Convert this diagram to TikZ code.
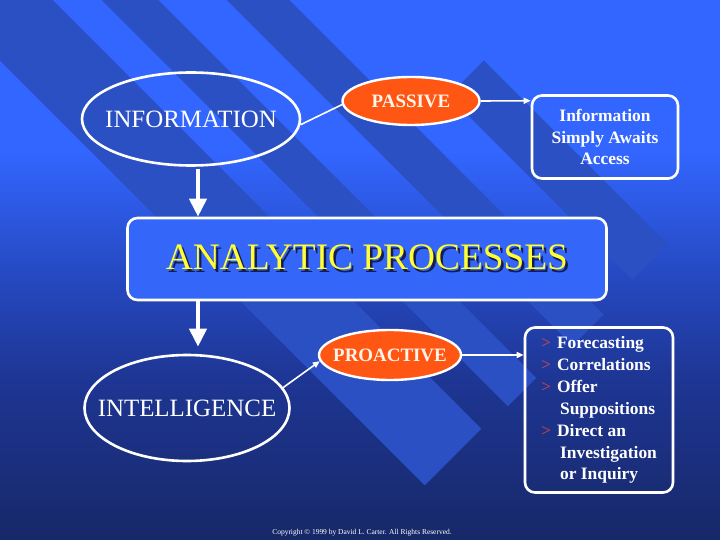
\documentclass[tikz,border=0pt]{standalone}
\usepackage{fontspec}
\setmainfont{Liberation Serif}
\usepackage{tikz}
\usetikzlibrary{shapes.geometric,arrows.meta,calc,positioning}
\definecolor{bgtop}{RGB}{51,102,255}
\definecolor{bgmid}{RGB}{38,74,196}
\definecolor{bgdeep}{RGB}{30,54,148}
\definecolor{bgbot}{RGB}{23,40,104}
\definecolor{stripeblue}{RGB}{42,80,196}
\definecolor{panelblue}{RGB}{52,102,250}
\definecolor{hotorange}{RGB}{255,86,20}
\definecolor{titleyellow}{RGB}{255,255,51}
\definecolor{titleshade}{RGB}{20,28,80}
\definecolor{bulletred}{RGB}{220,70,70}
\definecolor{creamtext}{RGB}{255,244,232}
\pgfdeclareverticalshading{slidebg}{100bp}{color(0bp)=(bgbot); color(25bp)=(bgbot); color(40bp)=(bgdeep); color(50bp)=(bgmid); color(61bp)=(bgtop); color(100bp)=(bgtop)}
\tikzstyle{stripe}=[fill=stripeblue]
\tikzstyle{bubble}=[ellipse, draw=white, line width=2.6bp, inner sep=0pt, text=white, font=\fontsize{25}{30}\selectfont]
\tikzstyle{hotspot}=[ellipse, draw=white, fill=hotorange, line width=2.4bp, inner sep=0pt, text=creamtext, font=\bfseries\fontsize{19}{23}\selectfont]
\tikzstyle{panel}=[rectangle, rounded corners=10bp, draw=white, line width=2.6bp, text=white, font=\bfseries\fontsize{17.5}{22}\selectfont]
\tikzstyle{link}=[draw=white, line width=1.6bp]
\tikzstyle{linkarrow}=[link, -{Triangle[length=7bp,width=6bp]}]
\tikzstyle{downflow}=[draw=white, line width=4bp, -{Triangle[length=18bp,width=17bp]}]
\newcommand{\bubble}{\node[bubble]}
\newcommand{\hotspot}{\node[hotspot]}
\newcommand{\fit}[1]{\makebox[0pt]{#1}}
\newcommand{\stripe}[4]{\fill[stripe] ($(#1)+(315:#2)$) -- ++(225:#4) -- ++(135:#3) -- ++(45:#4) -- cycle;}
\newcommand{\itm}[1]{\makebox[16bp][l]{\textcolor{bulletred}{\mdseries>}}#1}
\newcommand{\cont}[1]{\hspace*{19bp}#1}
\newcommand{\shadowed}[1]{\makebox[0pt][l]{\raisebox{-2.5bp}{\hspace*{2.5bp}\textcolor{titleshade}{#1}}}#1}

\begin{document}
\begin{tikzpicture}[x=1bp, y=-1bp]
            \useasboundingbox (0,0) rectangle (720,540);
            \begin{scope}
                \clip (0,0) rectangle (720,540);
                \shade[shading=slidebg] (0,0) rectangle (720,540);
                \stripe{453,457}{40}{80}{900}
                \stripe{522,392}{20}{40}{900}
                \stripe{588,330}{22}{44}{900}
                \stripe{650,262}{25}{50}{260}
            \end{scope}

            \bubble[minimum width=218bp, minimum height=93bp] (info) at (191,119) {\fit{INFORMATION}};
            \hotspot[minimum width=137bp, minimum height=48bp] (passive) at (411,101) {\fit{PASSIVE}};
            \node[panel, minimum width=146bp, minimum height=83bp, align=center] (awaits) at (605,137) {Information\\Simply Awaits\\Access};

            \node[panel, fill=panelblue, minimum width=479bp, minimum height=82bp, text=titleyellow, font=\fontsize{37.5}{44}\selectfont] (analytic) at (367,259) {\shadowed{ANALYTIC PROCESSES}};

            \bubble[minimum width=205bp, minimum height=106bp] (intel) at (187,408) {\fit{INTELLIGENCE}};
            \hotspot[minimum width=142bp, minimum height=50bp] (proact) at (390,355) {\fit{PROACTIVE}};
            \node[panel, minimum width=148bp, minimum height=165bp, align=left] (list) at (599,410) {\itm{Forecasting}\\\itm{Correlations}\\\itm{Offer}\\\cont{Suppositions}\\\itm{Direct an}\\\cont{Investigation}\\\cont{or Inquiry}};

            \node[text=white, font=\fontsize{7.5}{9}\selectfont] (credit) at (362,533) {Copyright © 1999 by David L. Carter. All Rights Reserved.};

            \coordinate (spine) at (198,0);
            \draw[downflow, shorten <=2bp] (info.south -| spine) -- (analytic.north -| spine);
            \draw[downflow, shorten >=7bp] (analytic.south -| spine) -- (intel.north -| spine);

            \path
            (info.-3) edge[link] (passive.183)
            (passive.east) edge[linkarrow] (awaits.154)
            (intel.12) edge[linkarrow] (proact.185)
            (proact.east) edge[linkarrow] (proact.east -| list.west)
            ;
\end{tikzpicture}
\end{document}
